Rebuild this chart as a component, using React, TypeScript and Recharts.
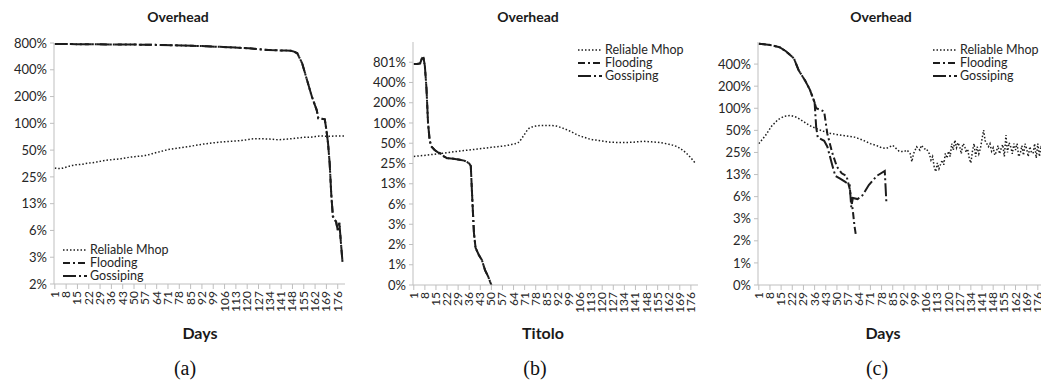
import React from "react";
import { LineChart, Line, XAxis, YAxis } from "recharts";

// day / overhead (%) pairs
const TICK_DAYS = [1, 8, 15, 22, 29, 36, 43, 50, 57, 64, 71, 78, 85, 92, 99, 106, 113, 120, 127, 134, 141, 148, 155, 162, 169, 176];
const A_Y_TICKS = [1.5625, 3.125, 6.25, 12.5, 25, 50, 100, 200, 400, 800];
const B_Y_TICKS = [0.391, 0.782, 1.564, 3.128, 6.256, 12.51, 25.02, 50.05, 100.1, 200.2, 400.4, 800.8];
const C_Y_TICKS = [0.391, 0.782, 1.564, 3.128, 6.256, 12.51, 25.02, 50.05, 100.1, 200.2, 400.4];
const SERIES_NAMES = ["Reliable Mhop", "Flooding", "Gossiping"];

// (a)
const A_MHOP: [number, number][] = [
    [1, 31.5], [4, 31], [7, 31.8], [10, 33], [13, 34], [17, 34.5], [21, 35.5], [26, 36.5], [31, 38], [36, 39],
    [42, 40], [47, 41.5], [52, 42.5], [57, 43.5], [62, 46], [67, 48.5], [72, 51], [77, 52.5], [83, 54.5], [88, 56.5],
    [93, 58.5], [98, 60], [103, 61.5], [108, 62.5], [114, 63.5], [119, 65], [124, 67], [129, 67], [134, 66.5], [139, 65.5],
    [145, 66.5], [150, 68], [155, 69.5], [160, 70], [165, 72], [170, 71.5], [175, 72], [180, 72]
];
const A_FLOODING: [number, number][] = [
    [1, 780], [20, 775], [40, 770], [60, 765], [80, 750], [95, 735], [109, 716], [121, 698], [133, 668], [140, 660],
    [147, 656], [149, 640], [151, 613], [154, 473], [157, 307], [160, 200], [163, 141], [164, 114], [168, 111], [169, 84],
    [170, 60], [171, 36], [172, 16], [173, 9], [175, 7.8], [176, 6.3], [177, 7.6], [178, 4.5], [179, 2.7]
];
const A_GOSSIPING: [number, number][] = [
    [1, 780], [20, 775], [40, 770], [60, 765], [80, 750], [95, 735], [109, 716], [121, 698], [133, 668], [140, 660],
    [147, 656], [149, 640], [151, 613], [154, 473], [157, 307], [160, 200], [163, 141], [164, 114], [168, 111], [169, 84],
    [170, 60], [171, 36], [172, 16], [173, 9], [175, 7.8], [176, 6.3], [177, 7.6], [178, 4.5], [179, 2.7]
];

// (b)
const B_MHOP: [number, number][] = [
    [1, 31.9], [10, 33.5], [20, 35.8], [30, 38.3], [41, 41], [50, 43.5], [62, 47.6], [67, 51.4], [70, 63], [74, 84],
    [78, 90], [81, 92], [87, 92], [91, 90], [95, 84], [100, 75], [104, 67], [108, 62], [112, 58], [118, 55],
    [125, 52], [130, 51.5], [135, 51.4], [140, 52], [146, 53.4], [151, 52.5], [156, 51.4], [161, 49], [167, 44.7], [173, 35.8],
    [179, 25]
];
const B_FLOODING: [number, number][] = [
    [1, 757], [3, 757], [5, 770], [6, 900], [7, 985], [8, 700], [9, 330], [10, 100], [11, 56], [12, 45],
    [14, 40], [16, 37], [18, 35], [20, 32], [22, 30], [26, 29.5], [30, 28.5], [33, 27.5], [35, 26], [36, 25],
    [37, 23], [38, 7], [39, 2.3], [40, 1.4], [42, 1.1], [44, 0.92], [46, 0.65], [48, 0.52], [49, 0.45], [50, 0.39]
];
const B_GOSSIPING: [number, number][] = [
    [1, 757], [3, 757], [5, 770], [6, 900], [7, 985], [8, 700], [9, 330], [10, 100], [11, 56], [12, 45],
    [14, 40], [16, 37], [18, 35], [20, 32], [22, 30], [26, 29.5], [30, 28.5], [33, 27.5], [35, 26], [36, 25],
    [37, 23], [38, 7], [39, 2.3], [40, 1.4], [42, 1.1], [44, 0.92], [46, 0.65], [48, 0.52], [49, 0.45], [50, 0.39]
];

// (c)
const C_MHOP: [number, number][] = [
    [1, 33], [5, 42], [9, 57], [13, 70], [17, 78], [21, 80], [25, 75], [29, 66], [33, 58], [37, 53],
    [41, 49], [46, 45.5], [51, 43.5], [56, 42], [61, 40.5], [66, 37], [71, 33], [75, 31], [78, 29], [81, 28.4],
    [85, 31.3], [89, 26], [92, 25.6], [94, 27], [96, 24], [97, 18.7], [98, 24], [100, 29.9], [102, 27], [103, 31.3],
    [105, 28], [106, 28.4], [108, 24], [109, 19.7], [110, 22], [111, 16], [112, 13.7], [113, 18], [114, 15], [116, 19.7],
    [117, 17], [118, 24.3], [119, 21], [120, 26], [121, 22], [122, 33], [123, 27], [124, 36.9], [125, 29], [126, 34],
    [127, 29.9], [128, 24], [129, 33], [130, 31.3], [131, 25], [132, 28], [133, 20.7], [134, 18], [135, 26], [136, 33],
    [137, 22], [138, 30], [139, 24], [140, 28.4], [141, 38], [142, 50.5], [143, 36], [144, 33], [145, 30], [146, 33],
    [147, 26], [148, 29], [149, 23], [150, 25.6], [151, 31], [152, 24], [153, 28.4], [154, 32], [155, 22], [156, 43.2],
    [157, 25], [158, 34], [159, 29.9], [160, 24], [161, 33], [162, 27], [163, 33], [164, 22], [165, 24.3], [166, 31],
    [167, 23], [168, 33], [169, 28], [170, 22], [171, 30], [172, 25], [173, 24.3], [174, 33], [175, 21], [176, 33],
    [177, 22], [178, 31], [179, 25], [180, 33]
];
const C_FLOODING: [number, number][] = [
    [1, 760], [8, 730], [14, 680], [18, 600], [23, 480], [26, 330], [30, 240], [33, 180], [36, 120], [37, 100],
    [40, 95], [42, 90], [44, 45], [47, 25], [50, 16], [53, 13], [56, 12], [58, 8], [60, 4], [61, 2.5],
    [62, 1.8]
];
const C_GOSSIPING: [number, number][] = [
    [1, 760], [8, 730], [14, 680], [18, 600], [23, 480], [26, 330], [30, 240], [33, 180], [36, 120], [37, 55],
    [38, 40], [42, 36], [44, 30], [47, 17], [49, 12], [52, 11], [55, 10], [58, 9], [59, 4.5], [60, 6],
    [63, 5.8], [66, 6.5], [70, 9], [75, 12], [80, 14], [81, 5.3]
];

const FONT = "Lato, 'Open Sans', sans-serif";
const AXIS_GREY = "#bfbfbf";
const INK = "#1c1c1c";
const DASHES = ["1.5 2", "7 3 2 3", "13 3 2 3"];
const WIDTHS = [1.5, 2, 2];

const toPoints = (arr: [number, number][]) => arr.map(([day, v]) => ({ day, v }));
const pct = (v: number) => `${Math.round(v)}%`;

const XTick = ({ x, y, payload }: any) => (
    <text
        x={x}
        y={y}
        dx={-1}
        dy={4}
        transform={`rotate(-90 ${x} ${y})`}
        textAnchor="end"
        fontSize={12}
        fontFamily={FONT}
        fill="#262626"
    >
        {payload.value}
    </text>
);

const SeriesLegend = ({ left, top }: { left: number; top: number }) => (
    <div style={{ position: "absolute", left, top, fontFamily: FONT, fontSize: 12.5, color: "#262626" }}>
        {SERIES_NAMES.map((name, i) => (
            <div key={name} style={{ display: "flex", alignItems: "center", height: 13 }}>
                <svg width={26} height={13}>
                    <line x1={1} y1={7} x2={25} y2={7} stroke={INK} strokeWidth={WIDTHS[i]} strokeDasharray={DASHES[i]} />
                </svg>
                <span style={{ marginLeft: 2, lineHeight: "13px" }}>{name}</span>
            </div>
        ))}
    </div>
);

interface PanelProps {
    left: number;
    width: number;
    top: number;
    bottom: number;
    yWidth: number;
    yTicks: number[];
    yMax: number;
    series: [number, number][][];
    smooth: boolean;
}

const Panel = ({ left, width, top, bottom, yWidth, yTicks, yMax, series, smooth }: PanelProps) => (
    <div style={{ position: "absolute", left, top: 0 }}>
        <LineChart width={width} height={340} margin={{ top, right: 5, left: 4, bottom }}>
            <XAxis
                dataKey="day"
                type="number"
                domain={[0.5, 180.5]}
                ticks={TICK_DAYS}
                interval={0}
                allowDataOverflow
                height={40}
                tick={<XTick />}
                tickSize={5}
                tickMargin={1}
                axisLine={{ stroke: AXIS_GREY }}
                tickLine={{ stroke: AXIS_GREY }}
            />
            <YAxis
                scale="log"
                type="number"
                domain={[yTicks[0], yMax]}
                ticks={yTicks}
                interval={0}
                allowDataOverflow
                width={yWidth}
                tickFormatter={pct}
                tick={{ fontSize: 13, fontFamily: FONT, fill: "#262626" }}
                tickSize={4}
                tickMargin={3}
                axisLine={{ stroke: AXIS_GREY }}
                tickLine={{ stroke: AXIS_GREY }}
            />
            {series.map((s, i) => (
                <Line
                    key={SERIES_NAMES[i]}
                    data={toPoints(s)}
                    dataKey="v"
                    name={SERIES_NAMES[i]}
                    type={i === 0 && smooth ? "monotone" : "linear"}
                    stroke={INK}
                    strokeWidth={WIDTHS[i]}
                    strokeDasharray={DASHES[i]}
                    dot={false}
                    activeDot={false}
                    isAnimationActive={false}
                />
            ))}
        </LineChart>
    </div>
);

const label = (text: string, cx: number, cy: number, style: React.CSSProperties) => (
    <div
        style={{
            position: "absolute",
            left: cx - 100,
            top: cy - 12,
            width: 200,
            height: 24,
            lineHeight: "24px",
            textAlign: "center",
            ...style,
        }}
    >
        {text}
    </div>
);

const titleStyle: React.CSSProperties = { fontFamily: FONT, fontWeight: 700, fontSize: 14, color: "#1a1a1a" };
const axisTitleStyle: React.CSSProperties = { fontFamily: FONT, fontWeight: 700, fontSize: 16, color: "#1a1a1a" };
const capStyle: React.CSSProperties = { fontFamily: "'Liberation Serif', serif", fontSize: 20, color: "#111" };

export default function App() {
    return (
        <div
            style={{
                position: "fixed",
                left: 0,
                top: 0,
                width: 1041,
                height: 385,
                overflow: "hidden",
                background: "#fff",
            }}
        >
            <Panel left={0} width={350} top={43} bottom={16} yWidth={50} yTicks={A_Y_TICKS} yMax={800}
                   series={[A_MHOP, A_FLOODING, A_GOSSIPING]} smooth />
            <Panel left={355} width={348} top={42} bottom={15} yWidth={54} yTicks={B_Y_TICKS} yMax={1601.6}
                   series={[B_MHOP, B_FLOODING, B_GOSSIPING]} smooth />
            <Panel left={700} width={350} top={42} bottom={15} yWidth={54} yTicks={C_Y_TICKS} yMax={800.8}
                   series={[C_MHOP, C_FLOODING, C_GOSSIPING]} smooth={false} />

            <SeriesLegend left={62} top={243} />
            <SeriesLegend left={577} top={43} />
            <SeriesLegend left={932} top={43} />

            {label("Overhead", 178, 17, titleStyle)}
            {label("Overhead", 528, 17, titleStyle)}
            {label("Overhead", 881, 17, titleStyle)}

            {label("Days", 200, 333, axisTitleStyle)}
            {label("Titolo", 543, 333, axisTitleStyle)}
            {label("Days", 883, 333, axisTitleStyle)}

            {label("(a)", 185, 368, capStyle)}
            {label("(b)", 535, 368, capStyle)}
            {label("(c)", 877, 368, capStyle)}
        </div>
    );
}
